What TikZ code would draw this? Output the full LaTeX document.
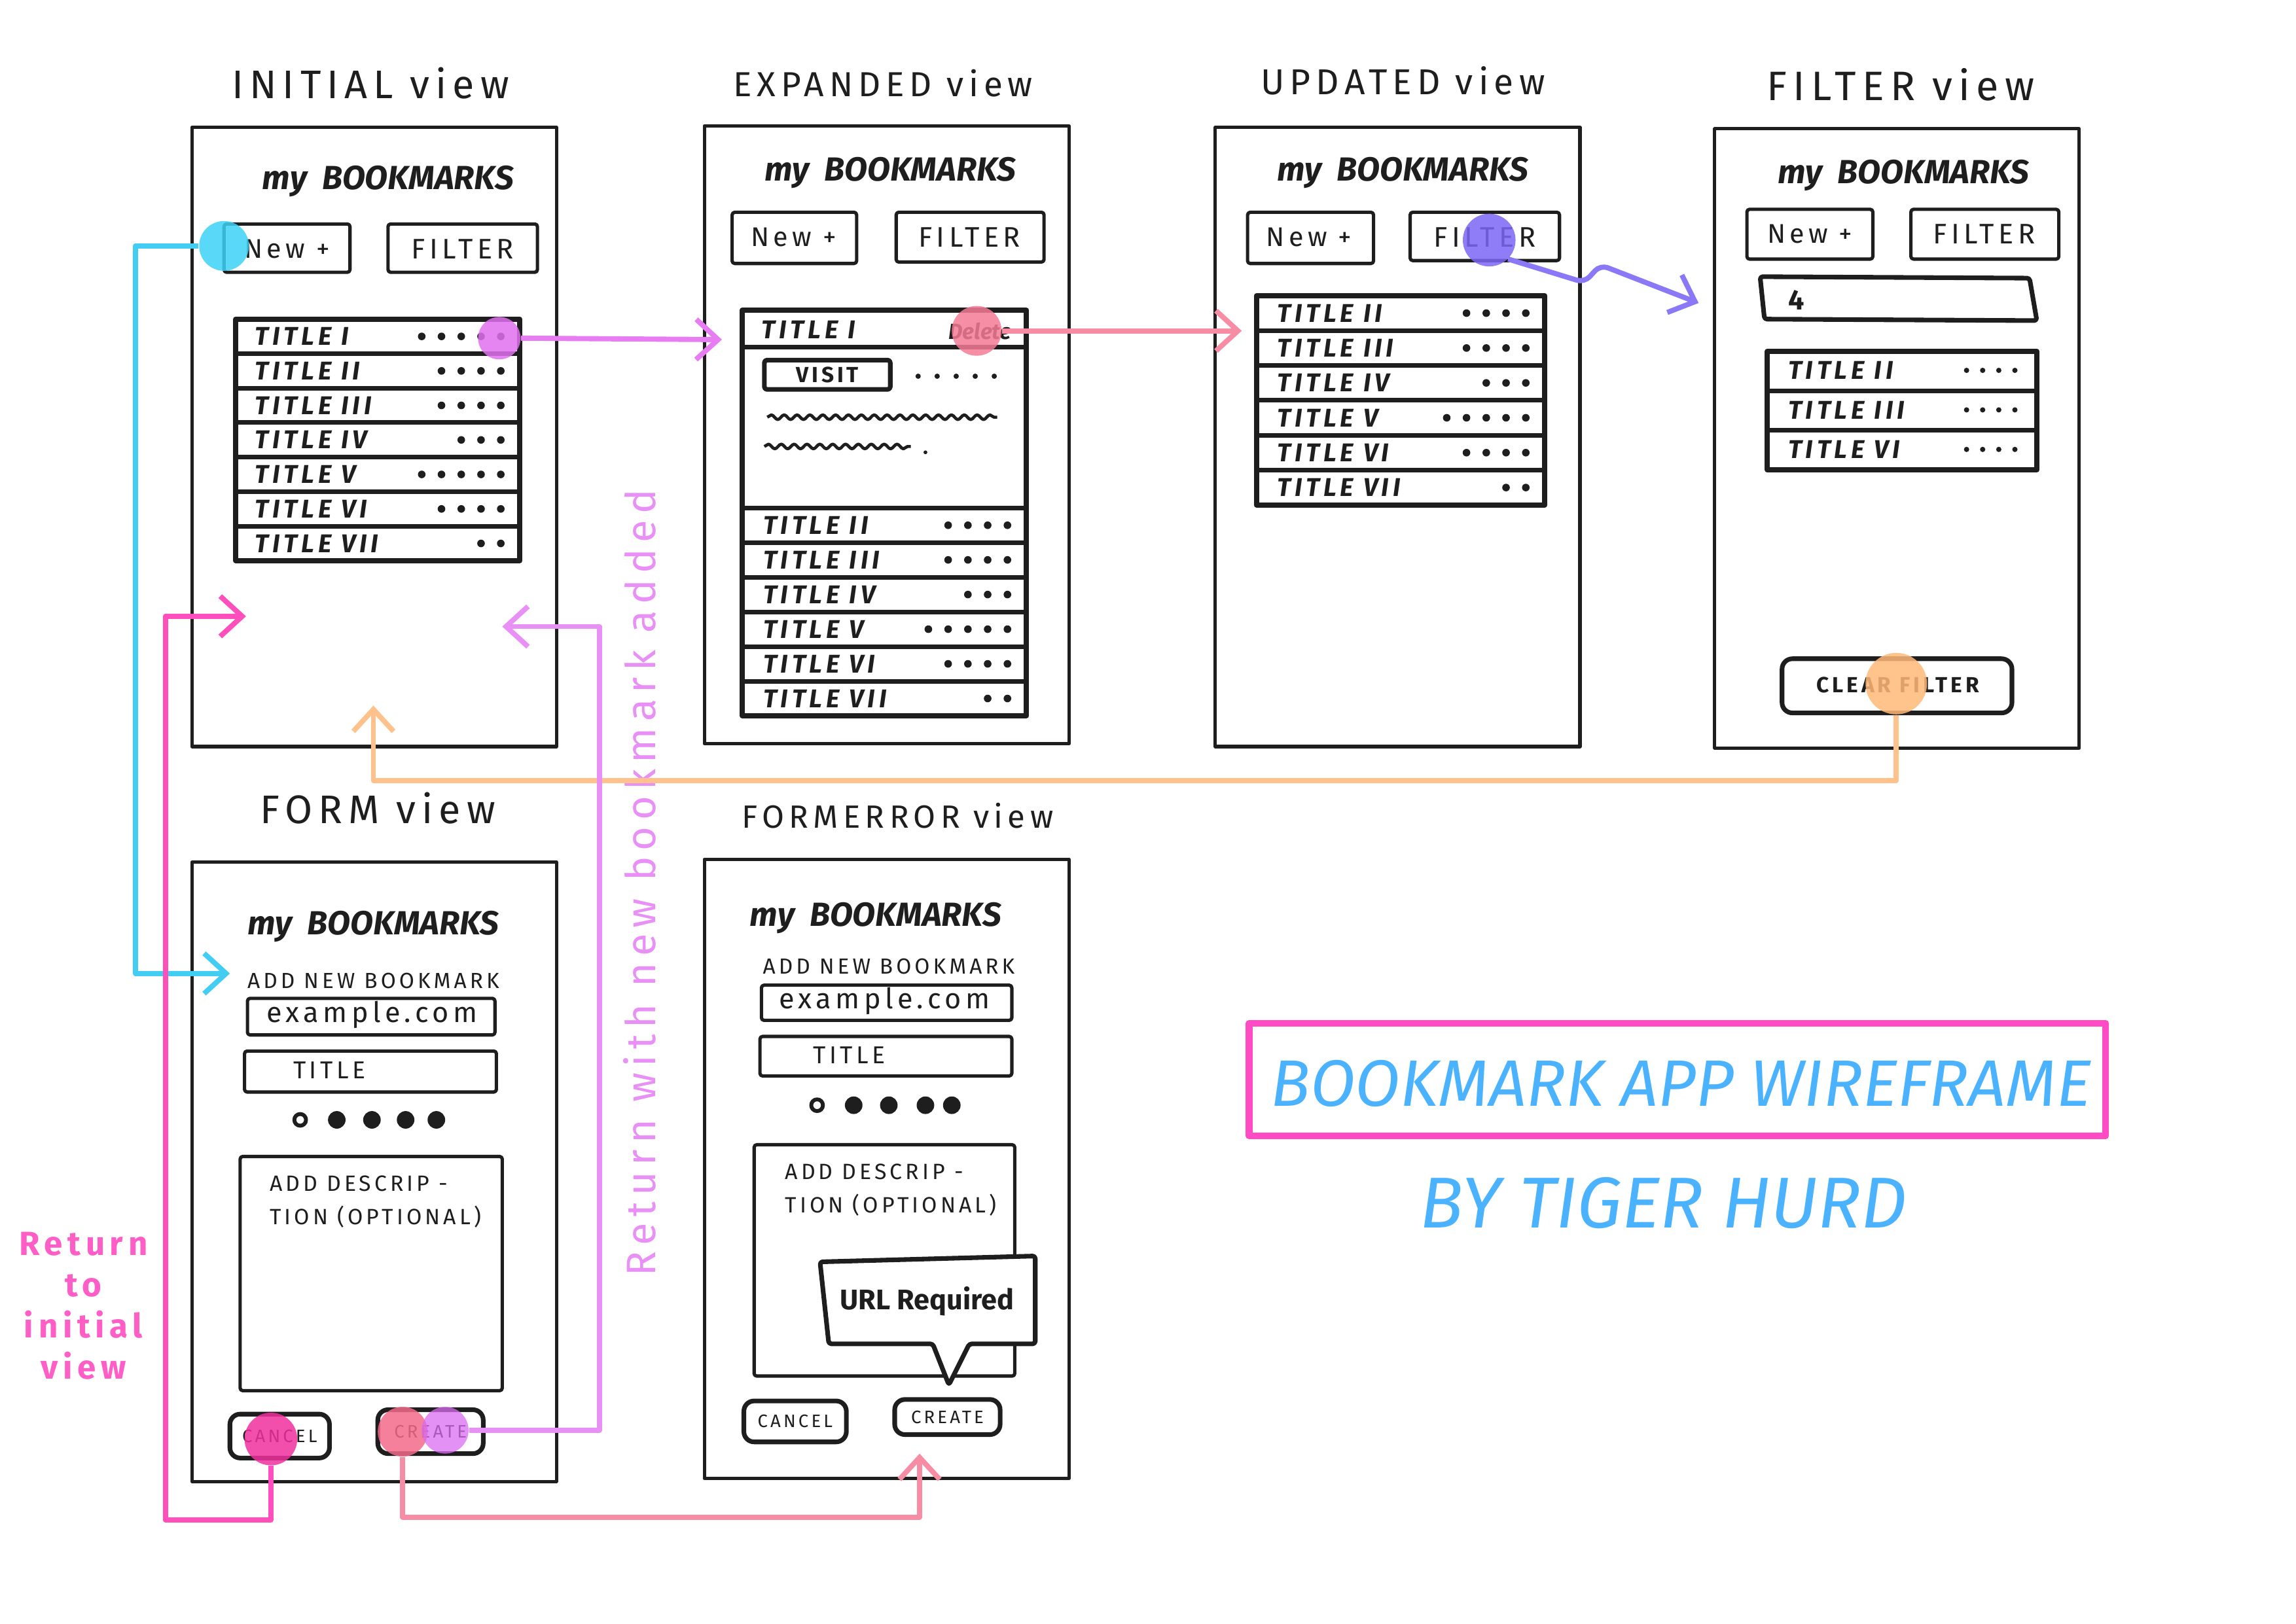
\documentclass[tikz,border=0pt]{standalone}
\usepackage{fontspec}
\setmainfont{Fira Sans}
\newfontfamily\spaced[LetterSpace=15]{Fira Sans}
\usetikzlibrary{arrows.meta,decorations.pathmorphing}

\definecolor{inkcol}{HTML}{1E1E1E}
\definecolor{cyanhl}{HTML}{3CD2F6}
\definecolor{magentahl}{HTML}{E070F0}
\definecolor{salmonhl}{HTML}{F47A96}
\definecolor{violethl}{HTML}{7A66F4}
\definecolor{orangehl}{HTML}{FFB877}
\definecolor{hotpinkhl}{HTML}{F0309F}
\definecolor{lilachl}{HTML}{D96CF2}
\definecolor{redhl}{HTML}{F26A8A}
\definecolor{cyanline}{HTML}{44CDF3}
\definecolor{magentaline}{HTML}{E87CF3}
\definecolor{salmonline}{HTML}{F78CA5}
\definecolor{violetline}{HTML}{8A78F6}
\definecolor{orangeline}{HTML}{FFC28D}
\definecolor{hotpinkline}{HTML}{FF4FBD}
\definecolor{notepink}{HTML}{FF5EC6}
\definecolor{lilacline}{HTML}{E890F6}
\definecolor{titleblue}{HTML}{4BB2FF}
\definecolor{framepink}{HTML}{FF4CC4}

\tikzset{
  phone/.style={draw=inkcol, line width=1.3pt},
  btn/.style={draw=inkcol, line width=1.3pt, rounded corners=1pt},
  listbox/.style={draw=inkcol, line width=2pt},
  divider/.style={draw=inkcol, line width=1.8pt},
  viewtitle/.style={text=inkcol, font=\spaced\fontsize{#1}{16}\selectfont},
  viewtitle/.default=14,
  heading/.style={text=inkcol, font=\bfseries\itshape\fontsize{13}{15}\selectfont},
  newtext/.style={text=inkcol, font=\spaced\fontsize{10.5}{12}\selectfont},
  filtertext/.style={text=inkcol, font=\spaced\fontsize{11}{13}\selectfont},
  rowtext/.style={anchor=west, text=inkcol, font=\spaced\bfseries\itshape\fontsize{10}{11}\selectfont},
  smalltext/.style={text=inkcol, font=\spaced\fontsize{9.5}{13}\selectfont},
  btntext/.style={text=inkcol, font=\spaced\fontsize{7}{8}\selectfont},
  wavy/.style={draw=inkcol, line width=1.2pt, decorate, decoration={snake, amplitude=0.9pt, segment length=5pt}},
  hl/.style={circle, inner sep=0pt, fill opacity=0.8},
  flow/.style={line width=2pt, ->},
  note/.style={font=\spaced\bfseries\fontsize{13}{16}\selectfont, align=center},
}

\begin{document}
\begin{tikzpicture}[x=0.02cm, y=-0.02cm, line join=round, >={Straight Barb[length=3mm,width=5.5mm]}]
\useasboundingbox (0,0) rectangle (1568,1109);
%
% View: initial
\draw[phone] (131,87) rectangle (380,510);
\node[viewtitle=15.5] (ini-t) at (253,57) {INITIAL view};
\node[heading] (ini-h) at (265,124) {my\ \ BOOKMARKS};
\draw[btn] (153,153) rectangle (239,186);
\node[newtext] (ini-new) at (196,170) {New +};
\draw[btn] (265,153) rectangle (367,186);
\node[filtertext] (ini-filt) at (316,170) {FILTER};
\draw[listbox] (161,218) rectangle (355,383);
\foreach \t/\n [count=\k from 0] in {I/5,II/4,III/4,IV/3,V/5,VI/4,VII/2} {
  \pgfmathsetmacro{\ry}{218+\k*23.57}
  \ifnum\k>0 \draw[divider] (161,\ry) -- (355,\ry); \fi
  \node[rowtext] (ini-r\k) at (168,\ry+11.8) {TITLE \t};
  \foreach \d in {1,...,\n} \fill[inkcol] ({342-(\d-1)*13.5},\ry+11.8) circle (2.6);
}
%
% View: expanded
\draw[phone] (481,86) rectangle (730,508);
\node[viewtitle=13.5] (exp-t) at (603,57) {EXPANDED view};
\node[heading] (exp-h) at (608,118) {my\ \ BOOKMARKS};
\draw[btn] (500,145) rectangle (585,180);
\node[newtext] (exp-new) at (542,162) {New +};
\draw[btn] (612,145) rectangle (713,179);
\node[filtertext] (exp-filt) at (662,162) {FILTER};
\draw[listbox] (507,212) rectangle (701,489);
\node[rowtext] (exp-r0) at (514,225) {TITLE I};
\node[rowtext, anchor=east, font=\bfseries\itshape\fontsize{8.5}{10}\selectfont] (exp-del) at (697,226) {Delete};
\draw[divider] (507,237) -- (701,237);
\draw[btn, line width=1.8pt] (522,246) rectangle (608,266);
\node[btntext, font=\spaced\bfseries\fontsize{8.5}{10}\selectfont] (exp-visit) at (565,256) {VISIT};
\foreach \x in {627,640,653,666,679} \fill[inkcol] (\x,257) circle (1.8);
\draw[wavy] (524,285) -- (681,285);
\draw[wavy] (522,305) -- (622,305);
\fill[inkcol] (632,309) circle (1.3);
\draw[divider] (507,347) -- (701,347);
\foreach \t/\n [count=\k from 1] in {II/4,III/4,IV/3,V/5,VI/4,VII/2} {
  \pgfmathsetmacro{\ry}{347+(\k-1)*23.67}
  \ifnum\k>1 \draw[divider] (507,\ry) -- (701,\ry); \fi
  \node[rowtext] (exp-r\k) at (515,\ry+11.8) {TITLE \t};
  \foreach \d in {1,...,\n} \fill[inkcol] ({688-(\d-1)*13.5},\ry+11.8) circle (2.6);
}
%
% View: updated
\draw[phone] (830,87) rectangle (1079,510);
\node[viewtitle=14] (upd-t) at (958,55) {UPDATED view};
\node[heading] (upd-h) at (958,118) {my\ \ BOOKMARKS};
\draw[btn] (852,145) rectangle (938,180);
\node[newtext] (upd-new) at (894,162) {New +};
\draw[btn] (963,145) rectangle (1065,178);
\node[filtertext] (upd-filt) at (1014,162) {FILTER};
\draw[listbox] (858,202) rectangle (1055,345);
\foreach \t/\n [count=\k from 0] in {II/4,III/4,IV/3,V/5,VI/4,VII/2} {
  \pgfmathsetmacro{\ry}{202+\k*23.83}
  \ifnum\k>0 \draw[divider] (858,\ry) -- (1055,\ry); \fi
  \node[rowtext] (upd-r\k) at (866,\ry+11.9) {TITLE \t};
  \foreach \d in {1,...,\n} \fill[inkcol] ({1042-(\d-1)*13.5},\ry+11.9) circle (2.6);
}
%
% View: filter
\draw[phone] (1171,88) rectangle (1420,511);
\node[viewtitle=16] (fil-t) at (1298,58) {FILTER view};
\node[heading] (fil-h) at (1300,120) {my\ \ BOOKMARKS};
\draw[btn] (1193,143) rectangle (1279,177);
\node[newtext] (fil-new) at (1236,160) {New +};
\draw[btn] (1305,143) rectangle (1406,177);
\node[filtertext] (fil-filt) at (1355,160) {FILTER};
\draw[btn, line width=1.8pt] (1202,189) -- (1386,190) -- (1391,219) -- (1205,218) -- cycle;
\node[rowtext, font=\bfseries\fontsize{11}{12}\selectfont] (fil-q) at (1215,205) {4};
\draw[listbox] (1207,240) rectangle (1391,321);
\foreach \t/\n [count=\k from 0] in {II/4,III/4,VI/4} {
  \pgfmathsetmacro{\ry}{240+\k*27}
  \ifnum\k>0 \draw[divider] (1207,\ry) -- (1391,\ry); \fi
  \node[rowtext] (fil-r\k) at (1215,\ry+13) {TITLE \t};
  \foreach \d in {1,...,\n} \fill[inkcol] ({1376-(\d-1)*11},\ry+13) circle (1.8);
}
\draw[btn, line width=1.8pt, rounded corners=4pt] (1217,450) rectangle (1374,487);
\node[btntext, font=\spaced\bfseries\fontsize{8.5}{10}\selectfont] (fil-clear) at (1296,468) {CLEAR FILTER};
%
% View: form
\draw[phone] (131,589) rectangle (380,1012);
\node[viewtitle=15.5] (frm-t) at (258,552) {FORM view};
\node[heading] (frm-h) at (255,633) {my\ \ BOOKMARKS};
\node[smalltext, font=\spaced\fontsize{8.5}{10}\selectfont] (frm-add) at (255,670) {ADD NEW BOOKMARK};
\draw[btn] (169,682) rectangle (338,707);
\node[smalltext, font=\spaced\fontsize{11}{12}\selectfont] (frm-url) at (254,693) {example.com};
\draw[btn] (167,718) rectangle (339,746);
\node[smalltext] (frm-title) at (225,731) {TITLE};
\draw[inkcol, line width=1.5pt] (205,765) circle (4);
\foreach \x in {230,254,277,298} \fill[inkcol] (\x,765) circle (6);
\draw[btn] (164,790) rectangle (343,950);
\node[smalltext, font=\spaced\fontsize{8.6}{13}\selectfont, align=left, anchor=north west] (frm-desc) at (178,797) {ADD DESCRIP -\\TION (OPTIONAL)};
\draw[btn, line width=1.8pt, rounded corners=4pt] (157,966) rectangle (225,996);
\node[btntext] (frm-cancel) at (191,981) {CANCEL};
\draw[btn, line width=1.8pt, rounded corners=4pt] (258,963) rectangle (330,993);
\node[btntext] (frm-create) at (294,978) {CREATE};
%
% View: form error
\draw[phone] (481,587) rectangle (730,1010);
\node[viewtitle=12.5] (err-t) at (613,557) {FORMERROR view};
\node[heading] (err-h) at (598,627) {my\ \ BOOKMARKS};
\node[smalltext, font=\spaced\fontsize{8.5}{10}\selectfont] (err-add) at (607,660) {ADD NEW BOOKMARK};
\draw[btn] (520,673) rectangle (691,697);
\node[smalltext, font=\spaced\fontsize{11}{12}\selectfont] (err-url) at (604,684) {example.com};
\draw[btn] (519,708) rectangle (691,735);
\node[smalltext] (err-title) at (580,721) {TITLE};
\draw[inkcol, line width=1.5pt] (558,755) circle (4);
\foreach \x in {583,607,632,650} \fill[inkcol] (\x,755) circle (6);
\draw[btn] (515,782) rectangle (693,940);
\node[smalltext, font=\spaced\fontsize{8.6}{13}\selectfont, align=left, anchor=north west] (err-desc) at (530,789) {ADD DESCRIP -\\TION (OPTIONAL)};
\draw[btn, fill=white, line width=1.8pt] (560,862) -- (707,858) -- (707,918) -- (662,918) -- (648,946) -- (637,918) -- (566,918) -- cycle;
\node[text=inkcol, font=\bfseries\fontsize{11}{12}\selectfont] (err-msg) at (633,889) {URL Required};
\draw[btn, line width=1.8pt, rounded corners=4pt] (508,957) rectangle (578,985);
\node[btntext] (err-cancel) at (543,971) {CANCEL};
\draw[btn, line width=1.8pt, rounded corners=4pt] (611,956) rectangle (683,980);
\node[btntext] (err-create) at (647,968) {CREATE};
%
% Title block
\draw[framepink, line width=2.6pt] (853,699) rectangle (1438,776);
\node[text=titleblue, font=\itshape\fontsize{25.5}{28}\selectfont] (ttl) at (1148,740) {BOOKMARK APP WIREFRAME};
\node[text=titleblue, font=\itshape\fontsize{28}{30}\selectfont] (byline) at (1136,822) {BY TIGER HURD};
%
% Notes
\node[note, text=notepink] (note-ret) at (57,892) {Return\\to\\initial\\view};
\node[note, text=lilacline, font=\spaced\fontsize{16}{18}\selectfont, rotate=90] (note-new) at (437,603) {Return with new bookmark added};
%
% Targets
\coordinate (frm-in) at (157,665);
\coordinate (exp-in) at (493,232);
\coordinate (upd-in) at (848,226);
\coordinate (fil-in) at (1160,207);
\coordinate (ini-in-b) at (255,482);
\coordinate (ini-in-l) at (168,421);
\coordinate (ini-in-r) at (343,428);
\coordinate (err-in) at (628,993);
%
% Highlights
\node[hl, minimum size=0.68cm] (new-hl) at (153,168) {};
\node[hl, minimum size=0.58cm] (dots-hl) at (341,231) {};
\node[hl, minimum size=0.68cm] (del-hl) at (667,226) {};
\node[hl, minimum size=0.72cm] (filt-hl) at (1017,164) {};
\node[hl, minimum size=0.84cm] (clear-hl) at (1295,467) {};
\node[hl, minimum size=0.72cm] (cancel-hl) at (185,983) {};
\node[hl, minimum size=0.68cm] (create-hl) at (275,978) {};
\node[hl, minimum size=0.64cm] (create2-hl) at (304,977) {};
%
% Edge: new -> form
\draw[flow, cyanline] (new-hl.west) -- ++(-43,0) |- (frm-in);
% Edge: dots -> expanded
\draw[flow, magentaline] (dots-hl.east) -- (exp-in);
% Edge: delete -> updated
\draw[flow, salmonline] (del-hl.east) -- (upd-in);
% Edge: filter -> filter view
\draw[flow, violetline, rounded corners=3pt] (filt-hl.south east) -- ++(52,16) -- ++(11,-12) -- (fil-in);
% Edge: clear -> initial
\draw[flow, orangeline] (clear-hl.south) -- ++(0,45) -| (ini-in-b);
% Edge: cancel -> initial
\draw[flow, hotpinkline] (cancel-hl.south) |- ++(-72,37) |- (ini-in-l);
% Edge: create -> initial
\draw[flow, lilacline] (create2-hl.east) -- ++(89,0) |- (ini-in-r);
% Edge: create -> form error
\draw[flow, salmonline] (create-hl.south) -- ++(0,41) -| (err-in);
%
\fill[cyanhl, fill opacity=0.85] (new-hl) circle (17);
\fill[magentahl, fill opacity=0.85] (dots-hl) circle (14.5);
\fill[salmonhl, fill opacity=0.85] (del-hl) circle (17);
\fill[violethl, fill opacity=0.85] (filt-hl) circle (18);
\fill[orangehl, fill opacity=0.85] (clear-hl) circle (21);
\fill[hotpinkhl, fill opacity=0.85] (cancel-hl) circle (18);
\fill[redhl, fill opacity=0.85] (create-hl) circle (17);
\fill[lilachl, fill opacity=0.75] (create2-hl) circle (16);
\end{tikzpicture}
\end{document}
